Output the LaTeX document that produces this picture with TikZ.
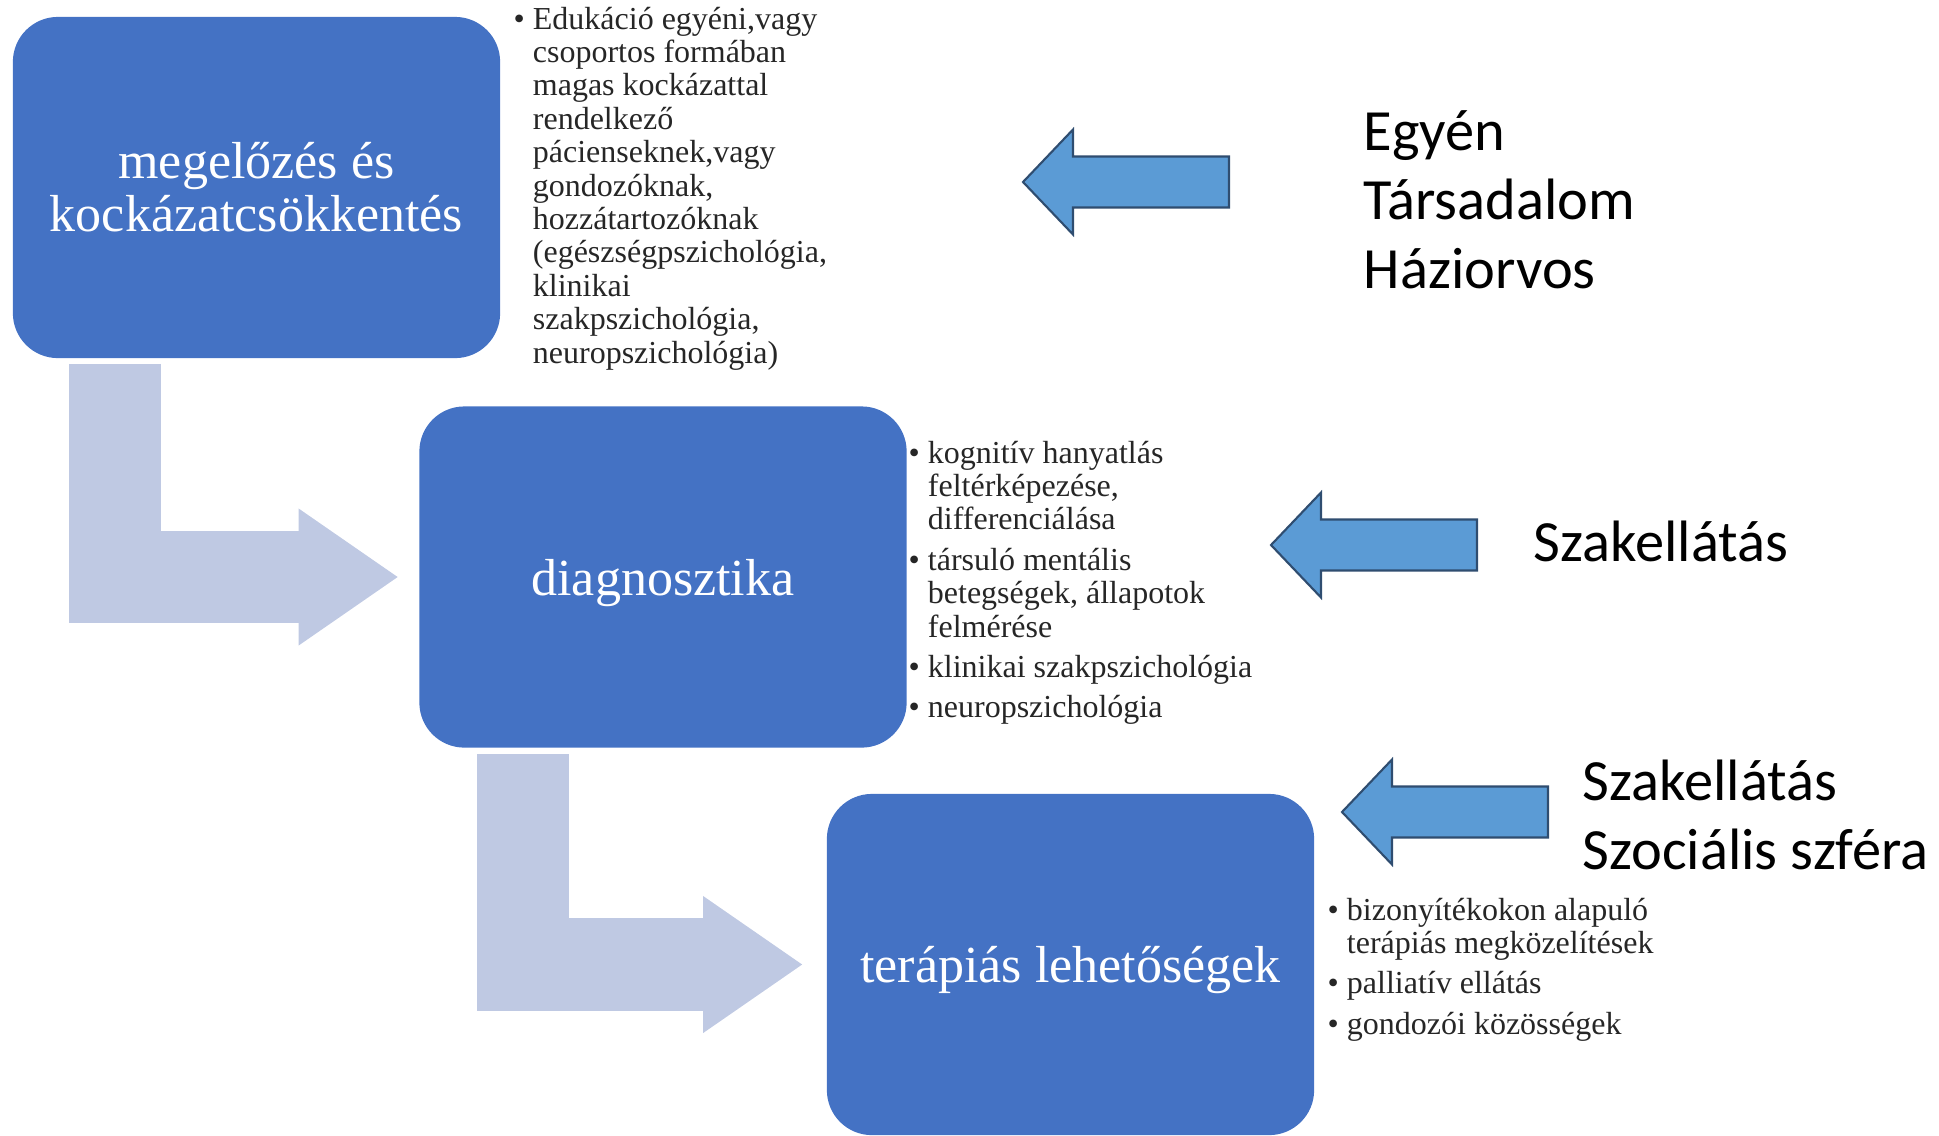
\documentclass[tikz,border=0pt]{standalone}
\usepackage{fontspec}
\setmainfont{Liberation Serif}
\newfontfamily\carlito{Carlito}
\usepackage{tikz}
\usetikzlibrary{arrows.meta, positioning}
\definecolor{boxblue}{HTML}{4472C4}
\definecolor{stepgrey}{HTML}{BFC9E3}
\definecolor{arrblue}{HTML}{5B9BD5}
\definecolor{arredge}{HTML}{2F4D70}

\begin{document}
\begin{tikzpicture}[x=0.01cm, y=-0.01cm, every node/.style={inner sep=0pt}]
            \tikzset{stage/.style={rectangle, rounded corners=0.45cm, fill=boxblue, text=white, minimum width=4.87cm, minimum height=3.41cm, align=center, font=\fontsize{14.8}{15.1}\selectfont},
              notes/.style={anchor=base west, text=black!85, font=\fontsize{9.1}{9.5}\selectfont},
              who/.style={anchor=base west, align=left, font=\carlito\fontsize{16.6}{19.6}\selectfont},
              flowarrow/.style={draw=stepgrey, line width=0.92cm, line join=miter, -{Triangle[length=0.99cm, width=1.37cm, line width=0pt]}},
              balarrow/.pic={\draw[fill=arrblue, draw=arredge, line width=0.6pt, line join=miter] (0,0) -- (50,-52.5) -- (50,-25.5) -- (206,-25.5) -- (206,25.5) -- (50,25.5) -- (50,52.5) -- cycle;}}
            \useasboundingbox (0,0) rectangle (1939,1135);
            % stages
            \node[stage] (prev) at (256.5,187.5) {megelőzés és\\kockázatcsökkentés};
            \node[stage, text depth=0pt] (diag) at (663,577) {diagnosztika};
            \node[stage, text depth=0pt] (ther) at (1070.5,964.5) {terápiás lehetőségek};
            % bent arrows from stage to stage
            \draw[flowarrow] ([xshift=1.03cm, yshift=-0.05cm]prev.south west) |- ([xshift=-0.21cm]diag.west);
            \draw[flowarrow] ([xshift=1.045cm, yshift=-0.06cm]diag.south west) |- ([xshift=-0.24cm]ther.west);
            % notes beside the stages
            \node[notes] (prevnotes) at (513,29) {\begin{tabular}[t]{@{}l@{\hspace{0.08cm}}l@{}}
                \textbullet & Edukáció egyéni,vagy\\
                & csoportos formában\\
                & magas kockázattal\\
                & rendelkező\\
                & pácienseknek,vagy\\
                & gondozóknak,\\
                & hozzátartozóknak\\
                & (egészségpszichológia,\\
                & klinikai\\
                & szakpszichológia,\\
                & neuropszichológia)
              \end{tabular}};
            \node[notes] (diagnotes) at (908,463) {\begin{tabular}[t]{@{}l@{\hspace{0.08cm}}l@{}}
                \textbullet & kognitív hanyatlás\\
                & feltérképezése,\\
                & differenciálása\\[0.07cm]
                \textbullet & társuló mentális\\
                & betegségek, állapotok\\
                & felmérése\\[0.07cm]
                \textbullet & klinikai szakpszichológia\\[0.07cm]
                \textbullet & neuropszichológia
              \end{tabular}};
            \node[notes] (thernotes) at (1327,920) {\begin{tabular}[t]{@{}l@{\hspace{0.08cm}}l@{}}
                \textbullet & bizonyítékokon alapuló\\
                & terápiás megközelítések\\[0.07cm]
                \textbullet & palliatív ellátás\\[0.07cm]
                \textbullet & gondozói közösségek
              \end{tabular}};
            % who is responsible
            \pic at (1023,182) {balarrow};
            \pic at (1271,545) {balarrow};
            \pic at (1342,812) {balarrow};
            \node[who] (prevwho) at (1363,288) {Egyén\\Társadalom\\Háziorvos};
            \node[who] (diagwho) at (1533,561) {Szakellátás};
            \node[who] (therwho) at (1582,869) {Szakellátás\\Szociális szféra};
        \end{tikzpicture}
\end{document}
